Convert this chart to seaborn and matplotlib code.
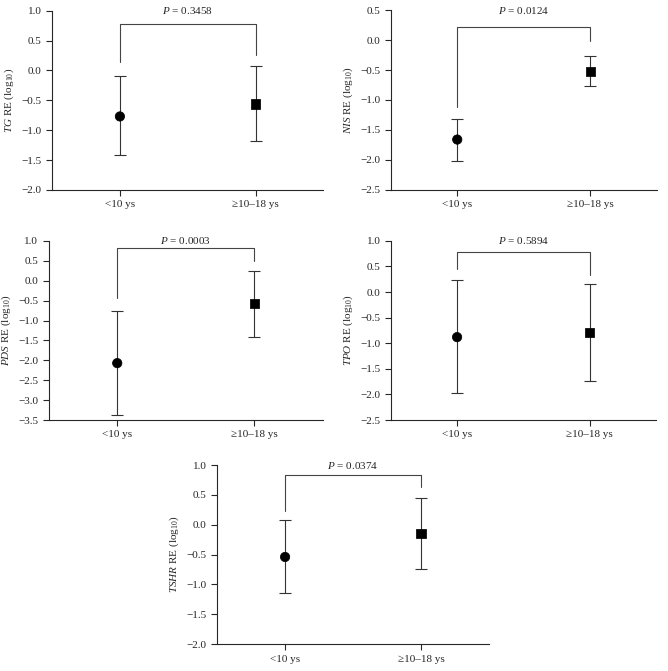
import numpy as np
import pandas as pd
import matplotlib
matplotlib.use("Agg")
import matplotlib.pyplot as plt
import seaborn as sns

# data
groups = ["<10 ys", "≥10–18 ys"]
genes = ["TG", "NIS", "PDS", "TPO", "TSHR"]
means = {
    "TG": [-0.77, -0.56],
    "NIS": [-1.66, -0.52],
    "PDS": [-2.07, -0.57],
    "TPO": [-0.88, -0.79],
    "TSHR": [-0.54, -0.15],
}
err_lo = {
    "TG": [-1.42, -1.18],
    "NIS": [-2.01, -0.77],
    "PDS": [-3.38, -1.41],
    "TPO": [-1.97, -1.73],
    "TSHR": [-1.15, -0.74],
}
err_hi = {
    "TG": [-0.10, 0.07],
    "NIS": [-1.31, -0.27],
    "PDS": [-0.77, 0.25],
    "TPO": [0.23, 0.16],
    "TSHR": [0.08, 0.44],
}
p_values = {"TG": "0.3458", "NIS": "0.0124", "PDS": "0.0003", "TPO": "0.5894", "TSHR": "0.0374"}
ylims = {"TG": (-2.0, 1.0), "NIS": (-2.5, 0.5), "PDS": (-3.5, 1.0), "TPO": (-2.5, 1.0), "TSHR": (-2.0, 1.0)}
# bracket: bar height, left drop end, right drop end
brackets = {
    "TG": (0.77, 0.14, 0.26),
    "NIS": (0.22, -1.12, -0.01),
    "PDS": (0.83, -0.44, 0.49),
    "TPO": (0.79, 0.46, 0.34),
    "TSHR": (0.84, 0.23, 0.63),
}

sns.set_style("ticks")
plt.rcParams["font.family"] = ["Liberation Serif", "DejaVu Serif"]
plt.rcParams["mathtext.fontset"] = "custom"
plt.rcParams["mathtext.rm"] = "Liberation Serif"
plt.rcParams["mathtext.it"] = "Liberation Serif:italic"

fig = plt.figure(figsize=(6.68, 6.71), dpi=100)
positions = {
    "TG": [0.078, 0.717, 0.406, 0.267],
    "NIS": [0.585, 0.717, 0.398, 0.268],
    "PDS": [0.073, 0.374, 0.410, 0.267],
    "TPO": [0.585, 0.374, 0.397, 0.267],
    "TSHR": [0.325, 0.040, 0.407, 0.267],
}

for g in genes:
    ax = fig.add_axes(positions[g])
    df = pd.DataFrame({"group": groups, "mean": means[g],
                       "lo": err_lo[g], "hi": err_hi[g]})
    df["x"] = np.arange(len(groups))
    # error bars
    ax.errorbar(df["x"], df["mean"],
                yerr=[df["mean"] - df["lo"], df["hi"] - df["mean"]],
                fmt="none", ecolor="#333333", elinewidth=0.8,
                capsize=4.5, capthick=0.8, zorder=2)
    sns.scatterplot(data=df, x="x", y="mean", style="group",
                    markers=["o", "s"], color="black", s=45,
                    edgecolor="black", legend=False, ax=ax, zorder=3)
    # significance bracket
    by, yl, yr = brackets[g]
    ax.plot([0, 0, 1, 1], [yl, by, by, yr], color="#444444", lw=0.8,
            clip_on=False)
    ax.text(0.5, ylims[g][1], r"$P$ = " + p_values[g], ha="center",
            va="center", fontsize=8)

    ax.set_xlim(-0.5, 1.5)
    ax.set_ylim(*ylims[g])
    ticks = np.arange(ylims[g][0], ylims[g][1] + 0.01, 0.5)
    ax.set_yticks(ticks)
    ax.set_yticklabels([f"{v:.1f}".replace("-", "\u2212") for v in ticks])
    ax.set_xticks([0, 1])
    ax.set_xticklabels(groups)
    ax.set_xlabel("")
    ax.set_ylabel(r"$\it{" + g + r"}$ RE (log$_{10}$)", fontsize=8)
    ax.tick_params(labelsize=8, length=4, width=0.8, direction="out")
    sns.despine(ax=ax)
    for sp in ["left", "bottom"]:
        ax.spines[sp].set_linewidth(0.8)

fig.savefig("out.png", dpi=100)
